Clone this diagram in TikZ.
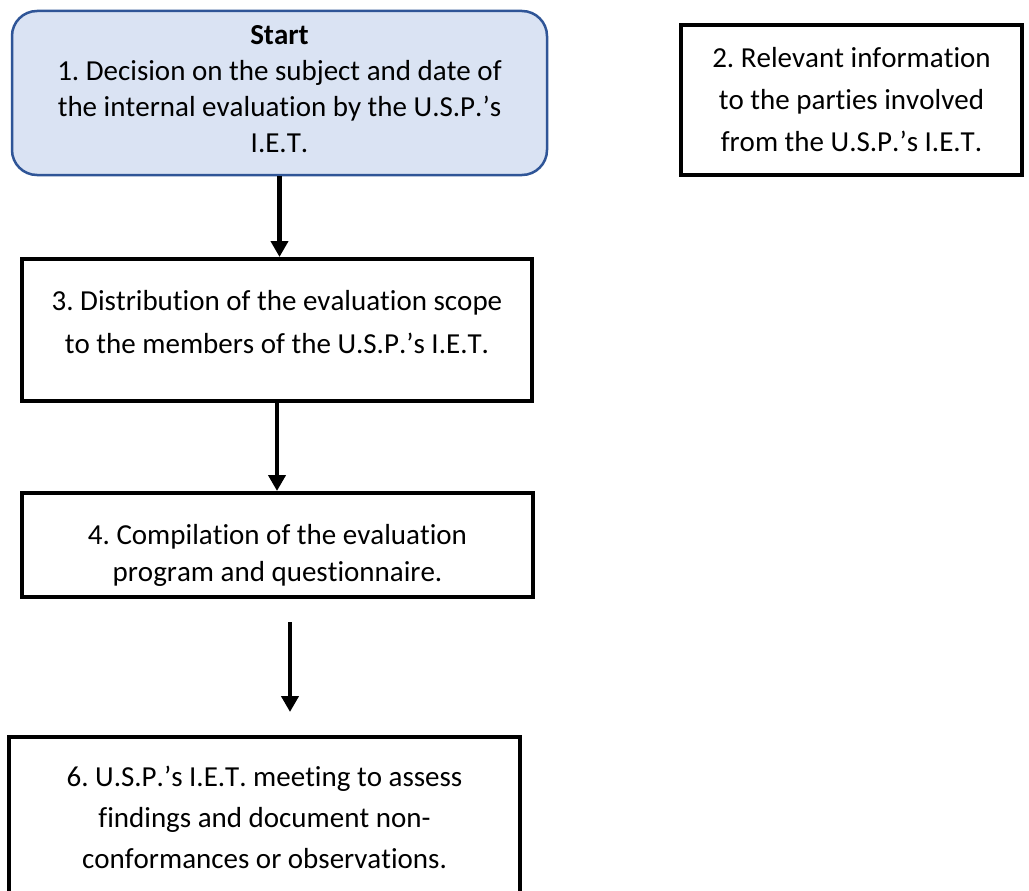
\documentclass[tikz,border=0pt]{standalone}
\usepackage{fontspec}
\setmainfont{Carlito}[Ligatures=NoCommon,Kerning=Off]
\usetikzlibrary{arrows.meta}
\definecolor{startfill}{HTML}{DAE3F3}
\definecolor{startdraw}{HTML}{2F5597}
\frenchspacing
\begin{document}
\begin{tikzpicture}[x=1pt,y=-1pt,
  stepbox/.style={draw=black, line width=4pt, align=center, inner sep=0pt},
  startbox/.style={draw=startdraw, fill=startfill, line width=2.5pt, rounded corners=25pt,
    align=center, inner sep=0pt},
  flow/.style={line width=4.5pt, -{Triangle[length=16pt,width=17pt]}}]
\clip (0,0) rectangle (1029,891);
\fill[white] (0,0) rectangle (1029,891);

% process steps
\node[startbox, minimum width=535pt, minimum height=164pt,
      font=\fontsize{29}{36}\selectfont] (s1) at (279.5,93)
  {\textbf{Start}\\1. Decision on the subject and date of\\the internal evaluation by the U.S.P.’s\\I.E.T.\\[-28pt]};
\node[stepbox, minimum width=341pt, minimum height=150pt,
      font=\fontsize{29}{42}\selectfont] (s2) at (851.5,100)
  {2. Relevant information\\to the parties involved\\from the U.S.P.’s I.E.T.};
\node[stepbox, minimum width=510pt, minimum height=142pt,
      font=\fontsize{29}{43}\selectfont] (s3) at (277,330)
  {3. Distribution of the evaluation scope\\to the members of the U.S.P.’s I.E.T.\\[-27pt]};
\node[stepbox, minimum width=511pt, minimum height=104pt,
      font=\fontsize{29}{37}\selectfont] (s4) at (277.5,545)
  {\mbox{}\\[3pt]4. Compilation of the evaluation\\program and questionnaire.};
\node[stepbox, minimum width=511pt, minimum height=160pt,
      font=\fontsize{29}{41}\selectfont] (s6) at (264.5,817)
  {6. U.S.P.’s I.E.T. meeting to assess\\findings and document non-\\conformances or observations.};

% connectors
\coordinate (gapTop) at (290,622);
\coordinate (gapEnd) at (290,712);
\draw[flow] (s1.south) -- (s3.north -| s1.south);
\draw[flow] (s3.south) -- (s4.north -| s3.south);
\draw[flow] (gapTop) -- (gapEnd);
\end{tikzpicture}
\end{document}
